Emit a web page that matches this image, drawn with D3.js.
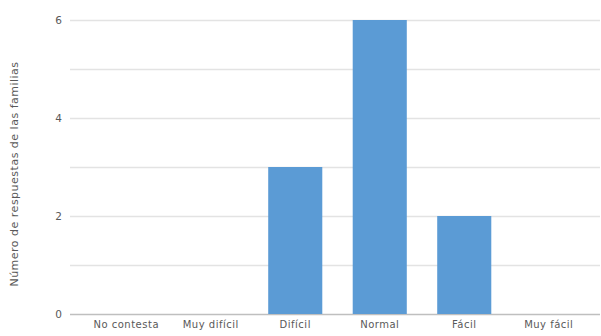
<!DOCTYPE html>
<html>
<head>
<meta charset="utf-8">
<script src="https://cdn.jsdelivr.net/npm/d3@7"></script>
<style>
  html, body { margin: 0; padding: 0; background: #fff; }
  svg { display: block; }
  text { font-family: "DejaVu Sans", sans-serif; fill: #595959; }
</style>
</head>
<body>
<svg id="chart" width="601" height="336"></svg>
<script>
// Respuestas de las familias por nivel de dificultad
const categories = ["No contesta", "Muy difícil", "Difícil", "Normal", "Fácil", "Muy fácil"];
const values = [0, 0, 3, 6, 2, 0];
const yTicks = [0, 2, 4, 6];
const yGrid = [0, 1, 2, 3, 4, 5, 6];
const yTitle = "Número de respuestas de las familias";

const svg = d3.select("#chart");

const x = d3.scaleBand()
  .domain(categories)
  .range([84, 591])
  .paddingInner(0.36)
  .paddingOuter(0.18);

const y = d3.scaleLinear()
  .domain([0, 6])
  .range([314, 20]);

const gridLeft = 70, gridRight = 600;

// Horizontal grid lines
svg.append("g")
  .selectAll("line")
  .data(yGrid)
  .join("line")
  .attr("x1", gridLeft)
  .attr("x2", gridRight)
  .attr("y1", d => y(d) + 0.5)
  .attr("y2", d => y(d) + 0.5)
  .attr("stroke", d => d === 0 ? "#bfbfbf" : "#e3e3e3")
  .attr("stroke-width", 1.4);

// Y axis labels
const yAxis = d3.axisLeft(y).tickValues(yTicks).tickSize(0).tickPadding(0).tickFormat(d3.format("d"));
svg.append("g")
  .attr("transform", `translate(${gridLeft - 8},0)`)
  .call(yAxis)
  .call(g => g.select(".domain").remove())
  .call(g => g.selectAll("text")
    .attr("font-family", "DejaVu Sans, sans-serif")
    .attr("font-size", 10.5)
    .attr("fill", "#595959"));

// Bars
svg.append("g")
  .selectAll("rect")
  .data(categories.map((c, i) => ({ c, v: values[i] })))
  .join("rect")
  .attr("x", d => x(d.c))
  .attr("width", x.bandwidth())
  .attr("y", d => y(d.v))
  .attr("height", d => y(0) - y(d.v))
  .attr("fill", "#5b9bd5");

// X axis labels
const xAxis = d3.axisBottom(x).tickSize(0).tickPadding(0);
svg.append("g")
  .attr("transform", `translate(0,${y(0) + 7})`)
  .call(xAxis)
  .call(g => g.select(".domain").remove())
  .call(g => g.selectAll("text")
    .attr("font-family", "DejaVu Sans, sans-serif")
    .attr("font-size", 10)
    .attr("letter-spacing", 0.5)
    .attr("fill", "#404040"));

// Y axis title
svg.append("text")
  .attr("transform", `translate(18,${(y(0) + y(6)) / 2 + 7}) rotate(-90)`)
  .attr("text-anchor", "middle")
  .attr("font-size", 11)
  .attr("letter-spacing", 0.5)
  .attr("fill", "#404040")
  .text(yTitle);
</script>
</body>
</html>
